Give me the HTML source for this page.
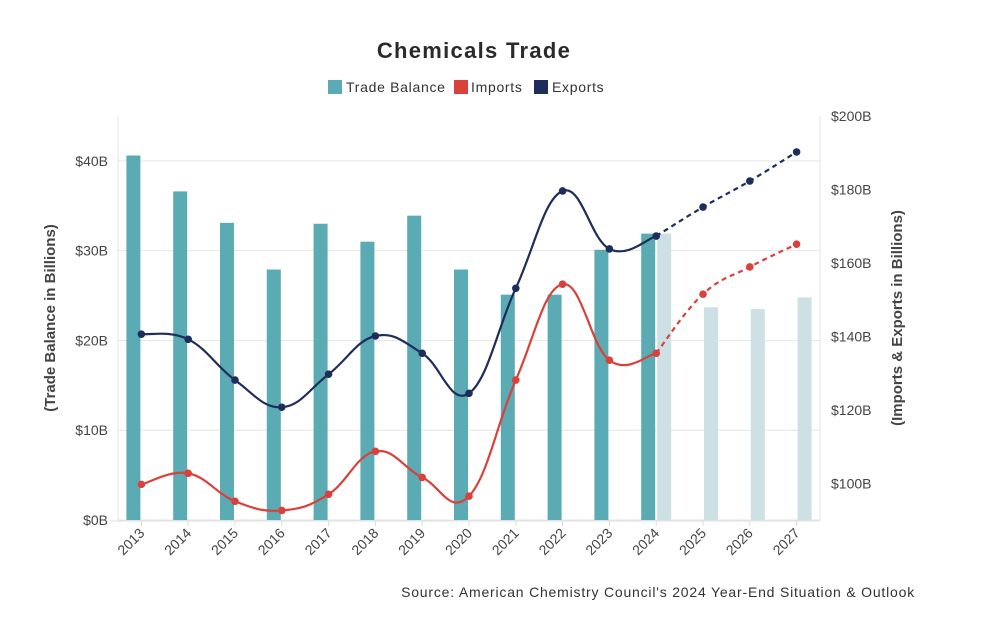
<!DOCTYPE html>
<html><head><meta charset="utf-8"><style>
body{margin:0;background:#fff;}
svg{font-family:"Liberation Sans",sans-serif;}
</style></head><body>
<svg id="c" width="1000" height="624" viewBox="0 0 1000 624">
<text x="474" y="58" text-anchor="middle" font-size="22" font-weight="bold" fill="#2a2a2a" letter-spacing="1.3">Chemicals Trade</text>
<g font-size="14" fill="#333" letter-spacing="0.7">
<g><rect x="328" y="80" width="14" height="14" fill="#5aabb3"/><text x="346" y="92">Trade Balance</text></g>
<g><rect x="454" y="80" width="14" height="14" fill="#d9413a"/><text x="471" y="92">Imports</text></g>
<g><rect x="534" y="80" width="14" height="14" fill="#1f2d5c"/><text x="552" y="92">Exports</text></g>
</g>
<text transform="translate(55,318) rotate(-90)" text-anchor="middle" font-size="15" font-weight="bold" fill="#444">(Trade Balance in Billions)</text>
<text transform="translate(902,318) rotate(-90)" text-anchor="middle" font-size="15" font-weight="bold" fill="#444">(Imports &amp; Exports in Billions)</text>
<text x="915" y="597" text-anchor="end" font-size="14" fill="#333" letter-spacing="0.8">Source: American Chemistry Council's 2024 Year-End Situation &amp; Outlook</text>
<g id="g"></g>
</svg>
<script>
const years=["2013","2014","2015","2016","2017","2018","2019","2020","2021","2022","2023","2024","2025","2026","2027"];
const balanceActual=[40.6,36.6,33.1,27.9,33.0,31.0,33.9,27.9,25.1,25.1,30.1,31.9,null,null,null];
const balanceProjected=[null,null,null,null,null,null,null,null,null,null,null,31.9,23.7,23.5,24.8];
const exportsVals=[140.6,139.2,128.1,120.7,129.7,140.1,135.4,124.5,153.1,179.6,163.8,167.3,175.2,182.3,190.2];
const importsVals=[99.7,102.7,95.1,92.6,97.0,108.7,101.6,96.5,128.1,154.2,133.5,135.4,151.5,158.9,165.1];
const leftTicks=[0,10,20,30,40];
const rightTicks=[100,120,140,160,180,200];
const actualCount=12;

const L=118,R=820,T=116,B=520;
const band=(R-L)/years.length;
const xc=i=>L+band*(i+0.5);
const yl=v=>B-(v-0)/(45-0)*(B-T);
const yr=v=>B-(v-90)/(200-90)*(B-T);
const g=document.getElementById('g');
const NS="http://www.w3.org/2000/svg";
function mk(t,a){const e=document.createElementNS(NS,t);for(const k in a)e.setAttribute(k,a[k]);g.appendChild(e);return e;}

leftTicks.forEach(v=>{
  const l=mk('line',{x1:L,x2:R,y1:yl(v),y2:yl(v),stroke:'#e6e6e6','stroke-width':1});
  
  
  const t=mk('text',{x:108,y:yl(v)+5,'text-anchor':'end','font-size':14,fill:'#444'});
  t.textContent='$'+v+'B';
  
  
});
rightTicks.forEach(v=>{
  const t=mk('text',{x:831,y:yr(v)+5,'font-size':14,fill:'#444'});
  t.textContent='$'+v+'B';
  
  
});
[L,R].forEach(x=>{const l=mk('line',{x1:x,x2:x,y1:T,y2:B,stroke:'#e6e6e6'});
  
  });
const xa=mk('line',{x1:L-8,x2:R,y1:B+1,y2:B+1,stroke:'#ddd'});



years.forEach((y,i)=>{
  mk('line',{x1:xc(i),x2:xc(i),y1:B+1,y2:B+6,stroke:'#ddd'});
  const t=mk('text',{transform:`translate(${xc(i)+4},${B+14}) rotate(-45)`,'text-anchor':'end','font-size':14,fill:'#444'});
  t.textContent=y;
  
  
  if(balanceActual[i]!=null){
    const r=mk('rect',{x:xc(i)-15,y:yl(balanceActual[i]),width:14,height:B-yl(balanceActual[i]),fill:'#5aabb3'});
    
    
  }
  if(balanceProjected[i]!=null){
    const r=mk('rect',{x:xc(i)+1,y:yl(balanceProjected[i]),width:14,height:B-yl(balanceProjected[i]),fill:'#cde0e4'});
    
    
  }
});

function spline(pts){
  let d=`M${pts[0][0]},${pts[0][1]}`;const k=0.2;
  for(let i=0;i<pts.length-1;i++){
    const p0=pts[i-1]||pts[i],p1=pts[i],p2=pts[i+1],p3=pts[i+2]||p2;
    const c1=[p1[0]+(p2[0]-p0[0])*k,p1[1]+(p2[1]-p0[1])*k];
    const c2=[p2[0]-(p3[0]-p1[0])*k,p2[1]-(p3[1]-p1[1])*k];
    d+=` C${c1[0]},${c1[1]} ${c2[0]},${c2[1]} ${p2[0]},${p2[1]}`;
  }
  return d;
}
function series(vals,color,name){
  const pts=vals.map((v,i)=>[xc(i),yr(v)]);
  const a=mk('path',{d:spline(pts.slice(0,actualCount)),fill:'none',stroke:color,'stroke-width':2.2});
  
  
  const p=mk('path',{d:spline(pts.slice(actualCount-1)),fill:'none',stroke:color,'stroke-width':2.2,'stroke-dasharray':'5,4'});
  
  
  pts.forEach((q,i)=>{
    const c=mk('circle',{cx:q[0],cy:q[1],r:3.8,fill:color});
    
    
  });
}
series(importsVals,'#d9413a','imports');
series(exportsVals,'#1f2d5c','exports');
</script>
</body></html>
